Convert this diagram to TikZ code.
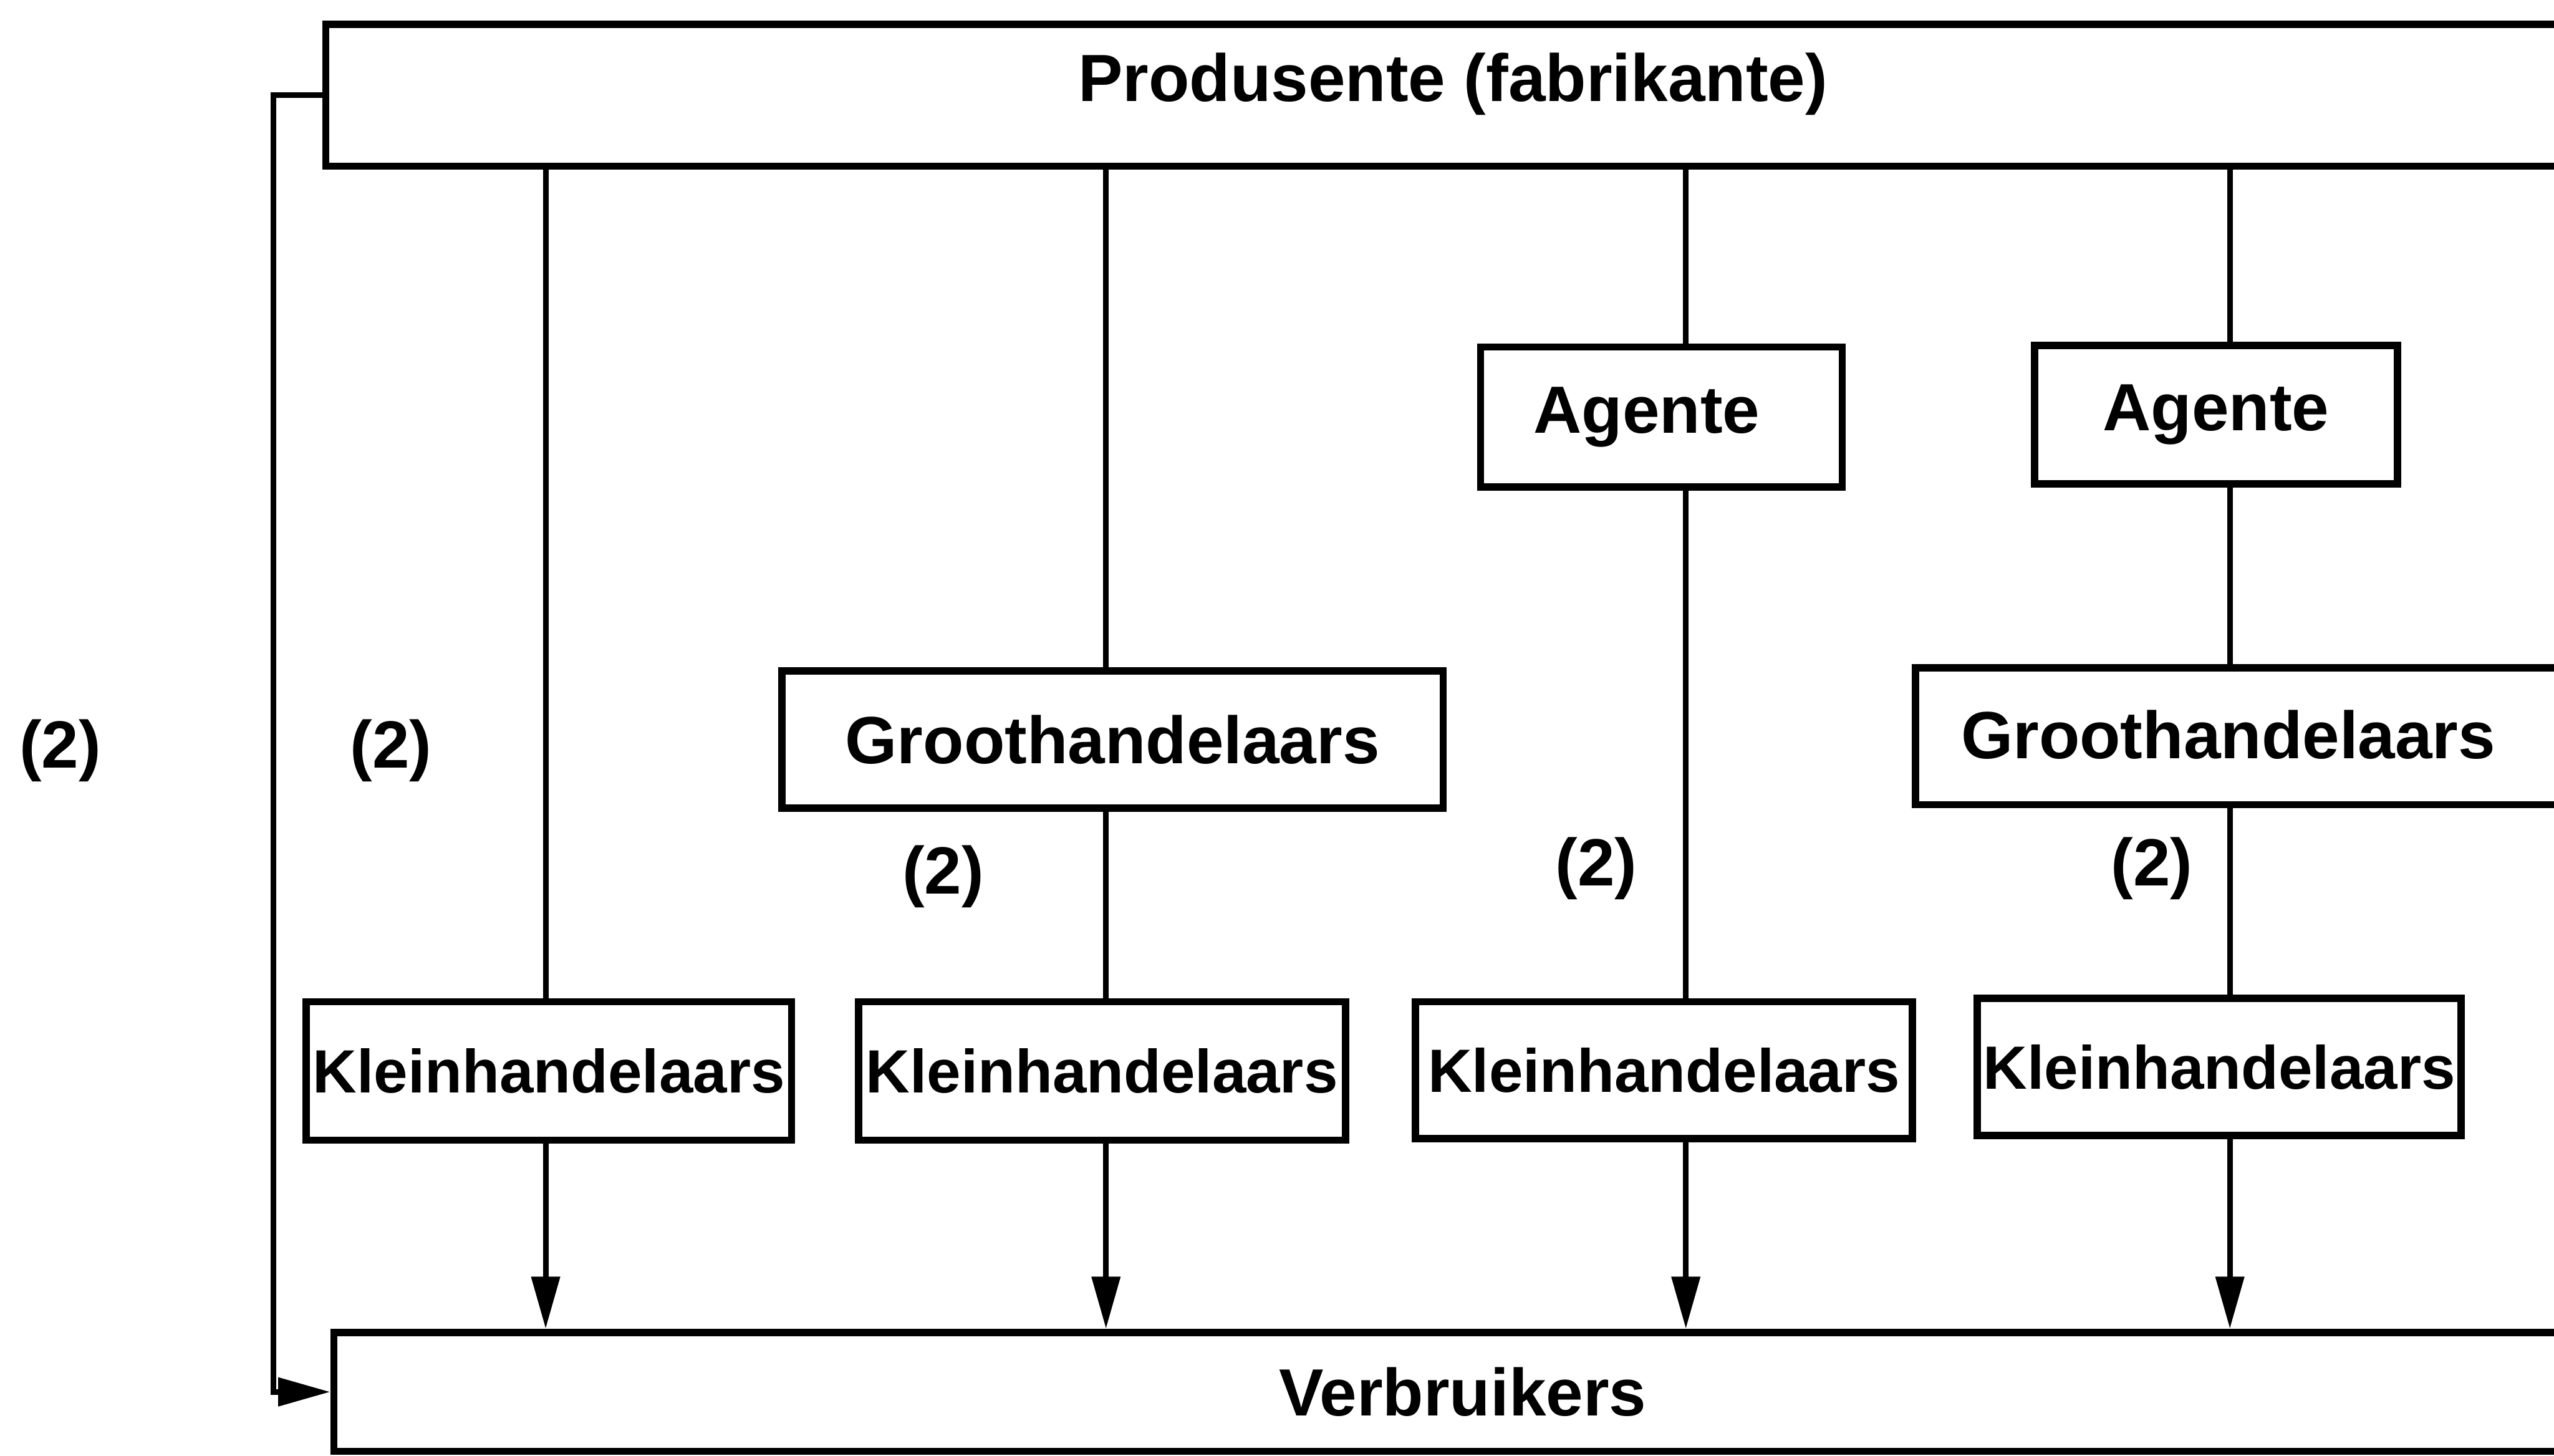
\documentclass[tikz,border=0pt]{standalone}
\usepackage{fontspec}
\setmainfont{Liberation Sans}
\usetikzlibrary{arrows.meta}
\begin{document}
\begin{tikzpicture}[x=1pt,y=-1pt,
  box/.style={draw, line width=4.5pt, rectangle, inner sep=0pt, font=\fontsize{41}{41}\selectfont\bfseries},
  kbox/.style={box, font=\fontsize{37.5}{37.5}\selectfont\bfseries},
  lbl/.style={font=\fontsize{41}{41}\selectfont\bfseries, inner sep=0pt},
  conn/.style={line width=3.5pt},
  arr/.style={conn, -{Triangle[length=32pt,width=17pt]}}]
\useasboundingbox (0,0) rectangle (1568,893.6);
\clip (0,0) rectangle (1568,893.6);
% column coordinates
\coordinate (c1) at (335,0);
\coordinate (c2) at (679,0);
\coordinate (c3) at (1035,0);
\coordinate (c4) at (1369,0);
\coordinate (fb) at (168,0);
% boxes
\node[box, minimum width=1384pt, minimum height=87pt, text depth=22pt] (P) at (892,58.5) {Produsente (fabrikante)};
\node[box, minimum width=1386pt, minimum height=73pt] (V) at (898,854.5) {Verbruikers};
\node[box, minimum width=222pt, minimum height=86pt] (A1) at (1020,256) {};
\node[lbl] (A1t) at (1011,256) {Agente};
\node[box, minimum width=223pt, minimum height=85pt] (A2) at (1360.5,254.5) {Agente};
\node[box, minimum width=406pt, minimum height=84pt] (G1) at (683,454) {Groothandelaars};
\node[box, minimum width=424pt, minimum height=84pt] (G2) at (1388,452) {};
\node[lbl] (G2t) at (1368,451) {Groothandelaars};
\node[kbox, minimum width=298pt, minimum height=85pt] (K1) at (337,657.5) {Kleinhandelaars};
\node[kbox, minimum width=299pt, minimum height=85pt] (K2) at (676.5,657.5) {Kleinhandelaars};
\node[kbox, minimum width=305pt, minimum height=84pt] (K3) at (1021.5,657) {Kleinhandelaars};
\node[kbox, minimum width=297pt, minimum height=84pt] (K4) at (1362.5,655) {Kleinhandelaars};
% labels
\node[lbl] (L0) at (37,461) {(2)};
\node[lbl] (L1) at (240,461) {(2)};
\node[lbl] (L2) at (579,538) {(2)};
\node[lbl] (L3) at (980,533) {(2)};
\node[lbl] (L4) at (1321,533) {(2)};
% column 1
\draw[conn] (P.south -| c1) -- (K1.north -| c1);
\draw[arr] (K1.south -| c1) -- (V.north -| c1);
% column 2
\draw[conn] (P.south -| c2) -- (G1.north -| c2);
\draw[conn] (G1.south -| c2) -- (K2.north -| c2);
\draw[arr] (K2.south -| c2) -- (V.north -| c2);
% column 3
\draw[conn] (P.south -| c3) -- (A1.north -| c3);
\draw[conn] (A1.south -| c3) -- (K3.north -| c3);
\draw[arr] (K3.south -| c3) -- (V.north -| c3);
% column 4
\draw[conn] (P.south -| c4) -- (A2.north -| c4);
\draw[conn] (A2.south -| c4) -- (G2.north -| c4);
\draw[conn] (G2.south -| c4) -- (K4.north -| c4);
\draw[arr] (K4.south -| c4) -- (V.north -| c4);
% feedback line
\draw[arr, line join=miter] (P.west) -- (P.west -| fb) -- (V.west -| fb) -- (V.west);
\end{tikzpicture}
\end{document}
